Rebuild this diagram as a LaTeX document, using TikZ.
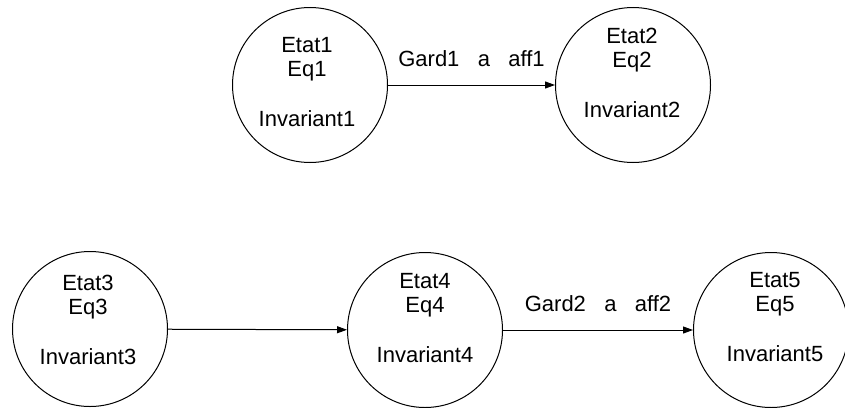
\documentclass[tikz,border=0pt]{standalone}
\usepackage{fontspec}
\setmainfont{Liberation Sans}
\usetikzlibrary{positioning, arrows.meta}

\begin{document}
\begin{tikzpicture}[
  x=0.5pt, y=-0.5pt,
  etat/.style={draw, circle, minimum size=77.5pt, inner sep=0pt, line width=0.5pt},
  txt/.style={anchor=north, inner sep=0pt, align=center, font=\fontsize{11}{12}\selectfont},
  arr/.style={-{Triangle[length=5pt, width=3.5pt]}, line width=0.5pt},
  lbl/.style={inner sep=0pt, font=\fontsize{11}{12}\selectfont},
]
\useasboundingbox (0,0) rectangle (845,407);

% Top row
\node[etat] (e1) at (310,85) {};
\node[etat] (e2) at (633,85) {};
\node[txt] (t1) at (307,37) {Etat1\\Eq1\\[13pt]Invariant1};
\node[txt] (t2) at (632,28) {Etat2\\Eq2\\[13pt]Invariant2};

% Bottom row
\node[etat] (e3) at (90,329) {};
\node[etat] (e4) at (425,330) {};
\node[etat] (e5) at (771,330) {};
\node[txt] (t3) at (88,275) {Etat3\\Eq3\\[13pt]Invariant3};
\node[txt] (t4) at (425,273) {Etat4\\Eq4\\[13pt]Invariant4};
\node[txt] (t5) at (775,272) {Etat5\\Eq5\\[13pt]Invariant5};

% Transitions
\draw[arr] (e1) -- node[lbl, above=9pt] (g1) {Gard1\ \ \ a\ \ \ aff1} (e2);
\draw[arr] (e3) -- (e4);
\draw[arr] (e4) -- node[lbl, above=9pt] (g2) {Gard2\ \ \ a\ \ \ aff2} (e5);

\end{tikzpicture}
\end{document}
